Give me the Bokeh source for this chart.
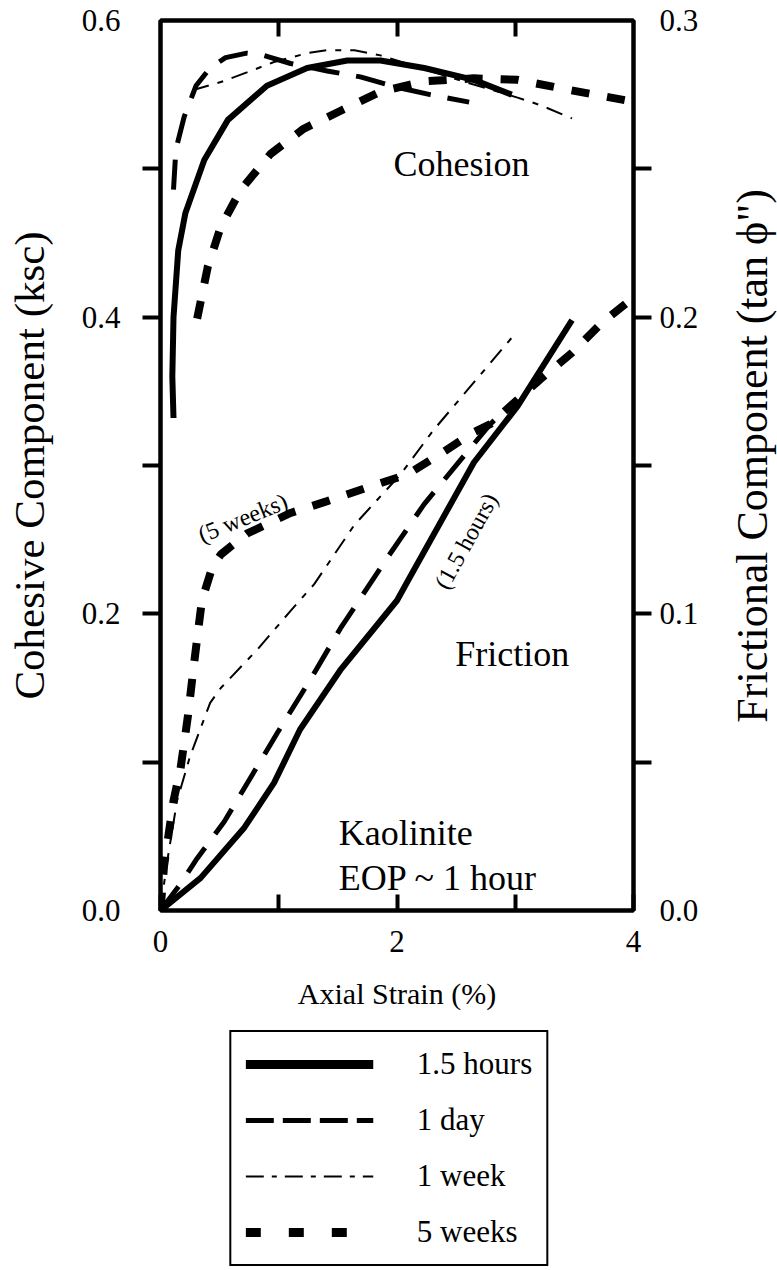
import math
from bokeh.plotting import figure
from bokeh.layouts import column, row
from bokeh.models import (LinearAxis, Range1d, FixedTicker, PrintfTickFormatter,
                          CustomJSTickFormatter, Legend, LegendItem, Label)
from bokeh.embed import file_html
from bokeh.resources import INLINE

# ---------------- data ----------------
series_names = ["1.5 hours", "1 day", "1 week", "5 weeks"]

# Cohesive component (ksc), left axis
coh_x_15h = [0.11, 0.10, 0.11, 0.15, 0.21, 0.37, 0.57, 0.90, 1.24, 1.58, 1.86, 2.23, 2.65, 2.97]
coh_y_15h = [0.332, 0.36, 0.40, 0.445, 0.47, 0.506, 0.533, 0.556, 0.568, 0.573, 0.573, 0.568, 0.560, 0.550]

coh_x_1d = [0.11, 0.13, 0.20, 0.30, 0.42, 0.55, 0.73, 0.85, 1.10, 1.41, 1.69, 2.00, 2.28, 2.61]
coh_y_1d = [0.486, 0.513, 0.535, 0.556, 0.568, 0.575, 0.578, 0.577, 0.571, 0.566, 0.562, 0.555, 0.550, 0.545]

coh_x_1w = [0.27, 0.51, 0.73, 0.96, 1.24, 1.41, 1.64, 1.86, 2.20, 2.60, 3.02, 3.21, 3.48]
coh_y_1w = [0.553, 0.5585, 0.565, 0.572, 0.578, 0.580, 0.580, 0.5765, 0.568, 0.558, 0.548, 0.543, 0.534]

coh_x_5w = [0.31, 0.40, 0.51, 0.68, 0.93, 1.21, 1.52, 1.86, 2.23, 2.65, 3.02, 3.47, 3.95]
coh_y_5w = [0.399, 0.434, 0.461, 0.486, 0.510, 0.527, 0.539, 0.552, 0.559, 0.561, 0.560, 0.553, 0.546]

# Frictional component (tan phi''), right axis
fr_x_15h = [0, 0.34, 0.71, 0.96, 1.18, 1.52, 2.00, 2.09, 2.65, 3.02, 3.21, 3.48]
fr_y_15h = [0, 0.011, 0.028, 0.043, 0.061, 0.081, 0.1045, 0.111, 0.151, 0.170, 0.182, 0.199]

fr_x_1d = [0, 0.17, 0.30, 0.54, 0.75, 0.99, 1.27, 1.52, 1.92, 2.23, 2.54, 2.79, 3.00]
fr_y_1d = [0, 0.009, 0.017, 0.030, 0.044, 0.060, 0.078, 0.095, 0.119, 0.137, 0.152, 0.164, 0.172]

fr_x_1w = [0, 0.05, 0.14, 0.25, 0.42, 0.51, 0.82, 1.10, 1.30, 1.64, 2.03, 2.31, 2.65, 2.99]
fr_y_1w = [0, 0.015, 0.037, 0.052, 0.070, 0.075, 0.088, 0.101, 0.110, 0.130, 0.147, 0.162, 0.178, 0.194]

fr_x_5w = [0, 0.03, 0.11, 0.17, 0.23, 0.28, 0.35, 0.44, 0.51, 0.73, 1.10, 1.41, 1.78, 2.09, 2.37,
           2.64, 2.79, 3.21, 3.48, 3.73, 3.95]
fr_y_5w = [0, 0.015, 0.037, 0.048, 0.065, 0.082, 0.1045, 0.116, 0.120, 0.127, 0.134, 0.138, 0.143,
           0.147, 0.154, 0.161, 0.164, 0.179, 0.188, 0.198, 0.205]

x_major_ticks = [0, 2, 4]
x_minor_ticks = [1, 3]
left_label_ticks = [0.0, 0.2, 0.4, 0.6]
left_mark_ticks = [0.1, 0.2, 0.3, 0.4, 0.5]
right_label_ticks = [0.0, 0.1, 0.2, 0.3]
right_mark_ticks = [0.05, 0.1, 0.15, 0.2, 0.25]

right_title = "Frictional Component (tan \u03d5\")"

# ---------------- main figure ----------------
FONT = "Liberation Serif"

p = figure(frame_width=473, frame_height=890, x_range=Range1d(0, 4), y_range=Range1d(0, 0.6),
           x_axis_type=None, y_axis_type=None, output_backend="svg",
           toolbar_location=None, min_border_left=160, min_border_right=80,
           min_border_top=20, min_border_bottom=110)
p.extra_y_ranges = {"fric": Range1d(0, 0.3)}
p.outline_line_color = "black"
p.outline_line_width = 4
p.outline_line_alpha = 1.0
p.background_fill_color = "white"
p.border_fill_color = "white"


def style_axis(ax):
    ax.axis_line_width = 4
    ax.axis_line_color = "black"
    ax.major_tick_line_width = 4
    ax.minor_tick_line_width = 4
    ax.major_tick_line_color = "black"
    ax.minor_tick_line_color = "black"
    ax.major_label_text_font = FONT
    ax.major_label_text_font_size = "31px"
    ax.major_label_text_color = "black"
    ax.axis_label_text_font = FONT
    ax.axis_label_text_font_style = "normal"
    ax.axis_label_text_color = "black"


# bottom axis
xb = LinearAxis(ticker=FixedTicker(ticks=x_major_ticks, minor_ticks=x_minor_ticks),
                axis_label="Axial Strain (%)")
style_axis(xb)
xb.major_tick_in = 16
xb.major_tick_out = 0
xb.minor_tick_in = 16
xb.minor_tick_out = 0
xb.major_label_standoff = 20
xb.axis_label_text_font_size = "30px"
xb.axis_label_standoff = 22
p.add_layout(xb, "below")

# top axis (ticks only)
xt = LinearAxis(ticker=FixedTicker(ticks=x_minor_ticks + [2], minor_ticks=[]),
                formatter=CustomJSTickFormatter(code="return ''"))
style_axis(xt)
xt.major_tick_in = 16
xt.major_tick_out = 0
xt.major_label_standoff = 0
p.add_layout(xt, "above")

# left axis
yl = LinearAxis(ticker=FixedTicker(ticks=left_label_ticks, minor_ticks=left_mark_ticks),
                formatter=PrintfTickFormatter(format="%.1f"),
                axis_label="Cohesive Component (ksc)")
style_axis(yl)
yl.major_tick_in = 0
yl.major_tick_out = 0
yl.minor_tick_in = 0
yl.minor_tick_out = 18
yl.major_label_standoff = 22
yl.axis_label_text_font_size = "43px"
yl.axis_label_standoff = 26
p.add_layout(yl, "left")

# right axis (its title sits in a narrow strip figure, reading upwards)
yr = LinearAxis(y_range_name="fric",
                ticker=FixedTicker(ticks=right_label_ticks, minor_ticks=right_mark_ticks),
                formatter=PrintfTickFormatter(format="%.1f"))
style_axis(yr)
yr.major_tick_in = 0
yr.major_tick_out = 0
yr.minor_tick_in = 0
yr.minor_tick_out = 18
yr.major_label_standoff = 8
p.add_layout(yr, "right")

# ---------------- curves ----------------
W_SOLID, W_DAY, W_WEEK, W_5W = 6, 5, 2, 8
D_DAY, D_WEEK, D_5W = "30 17", "17 9 6 9", "18 18"

p.line(coh_x_15h, coh_y_15h, line_color="black", line_width=W_SOLID)
p.line(coh_x_1d, coh_y_1d, line_color="black", line_width=W_DAY, line_dash=D_DAY)
p.line(coh_x_1w, coh_y_1w, line_color="black", line_width=W_WEEK, line_dash=D_WEEK)
p.line(coh_x_5w, coh_y_5w, line_color="black", line_width=W_5W, line_dash=D_5W)

p.line(fr_x_15h, fr_y_15h, line_color="black", line_width=W_SOLID, y_range_name="fric")
p.line(fr_x_1d, fr_y_1d, line_color="black", line_width=W_DAY, line_dash=D_DAY, y_range_name="fric")
p.line(fr_x_1w, fr_y_1w, line_color="black", line_width=W_WEEK, line_dash=D_WEEK, y_range_name="fric")
p.line(fr_x_5w, fr_y_5w, line_color="black", line_width=W_5W, line_dash=D_5W, y_range_name="fric")

# ---------------- annotations ----------------
big = dict(text_font=FONT, text_font_size="36px", text_color="black")
small = dict(text_font=FONT, text_font_size="24px", text_color="black")
p.add_layout(Label(x=2.545, y=0.503, text="Cohesion", text_align="center",
                   text_baseline="middle", **big))
p.add_layout(Label(x=2.974, y=0.1726, text="Friction", text_align="center",
                   text_baseline="middle", **big))
p.add_layout(Label(x=1.508, y=0.052, text="Kaolinite", text_align="left",
                   text_baseline="alphabetic", **big))
p.add_layout(Label(x=1.508, y=0.0222, text="EOP ~ 1 hour", text_align="left",
                   text_baseline="alphabetic", **big))
p.add_layout(Label(x=0.696, y=0.2647, text="(5 weeks)", angle=math.radians(22),
                   text_align="center", text_baseline="middle", **small))
p.add_layout(Label(x=2.585, y=0.249, text="(1.5 hours)", angle=math.radians(61),
                   text_align="center", text_baseline="middle", **small))

# ---------------- right title strip ----------------
r = figure(width=64, height=1020, x_range=Range1d(0, 64), y_range=Range1d(0, 1020),
           x_axis_type=None, y_axis_type=None, output_backend="svg",
           toolbar_location=None, min_border=0)
r.outline_line_color = None
r.background_fill_color = "white"
r.border_fill_color = "white"
r.add_layout(Label(x=39, y=521, text=right_title, angle=math.pi / 2,
                   text_align="center", text_baseline="middle",
                   text_font=FONT, text_font_size="44px", text_color="black"))

# ---------------- legend figure ----------------
q = figure(width=777, height=250, x_range=Range1d(0, 1), y_range=Range1d(0, 1),
           x_axis_type=None, y_axis_type=None, output_backend="svg",
           toolbar_location=None, min_border=0)
q.outline_line_color = None
q.background_fill_color = "white"
q.border_fill_color = "white"

NA = [math.nan]
lg_solid = q.line(x=NA, y=NA, line_color="black", line_width=9)
lg_day = q.line(x=NA, y=NA, line_color="black", line_width=5, line_dash="28 9")
lg_week = q.line(x=NA, y=NA, line_color="black", line_width=2, line_dash="18 8 5 8")
lg_5w = q.line(x=NA, y=NA, line_color="black", line_width=9, line_dash="15 28")

legend = Legend(items=[LegendItem(label=series_names[0], renderers=[lg_solid]),
                       LegendItem(label=series_names[1], renderers=[lg_day]),
                       LegendItem(label=series_names[2], renderers=[lg_week]),
                       LegendItem(label=series_names[3], renderers=[lg_5w])],
                location="top_center", orientation="vertical")
legend.border_line_color = "black"
legend.border_line_width = 2
legend.border_line_alpha = 1.0
legend.background_fill_alpha = 1.0
legend.label_text_font = FONT
legend.label_text_font_size = "31px"
legend.label_text_color = "black"
legend.glyph_width = 128
legend.glyph_height = 36
legend.label_height = 36
legend.label_standoff = 44
legend.padding = 14
legend.spacing = 20
legend.margin = 10
q.add_layout(legend, "center")

layout = column(row(p, r, spacing=0), q, spacing=0)

with open("out.html", "w") as f:
    f.write(file_html(layout, INLINE))
